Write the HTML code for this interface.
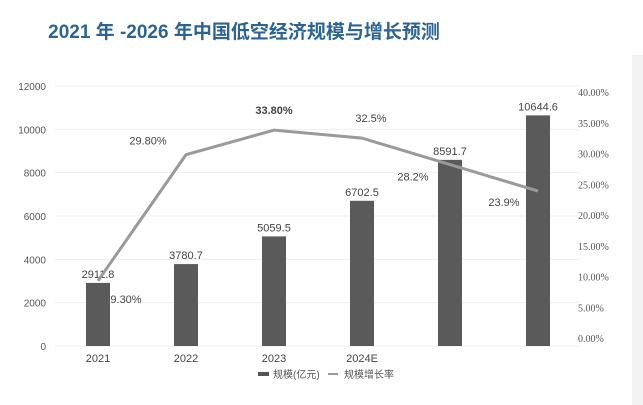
<!DOCTYPE html>
<html><head><meta charset="utf-8"><style>
body{margin:0;background:#fff;}
svg{display:block;font-family:"Liberation Sans","Noto Sans CJK SC",sans-serif;}
</style></head><body>
<svg id="c" width="643" height="405">
<rect x="0" y="0" width="643" height="405" fill="#fff"/>
<rect x="632" y="55" width="11" height="350" fill="#f3f3f3"/>
<text x="244" y="38" text-anchor="middle" font-size="19" font-weight="bold" fill="#2c6496">2021 年 -2026 年中国低空经济规模与增长预测</text>
<g id="grid"></g><g id="bars"></g><g id="line"></g><g id="axes"></g>
<g>
<rect x="258" y="372" width="11" height="4" fill="#555"/>
<text x="273" y="378" font-size="10" fill="#555">规模(亿元)</text>
<line x1="328" y1="374" x2="338" y2="374" stroke="#777" stroke-width="1.5"/>
<text x="344" y="378" font-size="10" fill="#555">规模增长率</text>
</g>
</svg>
<script>
const categories=["2021","2022","2023","2024E","",""];
const scaleValues=[2911.8,3780.7,5059.5,6702.5,8591.7,10644.6];
const scaleLabels=["2911.8","3780.7","5059.5","6702.5","8591.7","10644.6"];
const growthValues=[9.3,29.8,33.8,32.5,28.2,23.9];
const growthLabels=["9.30%","29.80%","33.80%","32.5%","28.2%","23.9%"];
const leftTicks=[0,2000,4000,6000,8000,10000,12000];
const rightTicks=[0,5,10,15,20,25,30,35,40];
const NS="http://www.w3.org/2000/svg";
function el(t,a,p,txt){const e=document.createElementNS(NS,t);for(const k in a)e.setAttribute(k,a[k]);if(txt!==undefined)e.textContent=txt;document.getElementById(p).appendChild(e);return e;}
const xC=i=>98+i*88;
const yL=v=>346-v/12000*260;
const yR=v=>338-v/40*246;
leftTicks.forEach(t=>{
 const g=el('line',{x1:55,x2:580,y1:yL(t),y2:yL(t),stroke:'#efefef','stroke-width':1},'grid');
 
 
 const l=el('text',{x:46,y:yL(t)+4,'text-anchor':'end','font-size':10,fill:'#555'},'axes',String(t));
 
 
});
rightTicks.forEach(t=>{
 const l=el('text',{x:578,y:yR(t)+4,'font-size':10,fill:'#555','font-family':'Liberation Serif,serif'},'axes',t.toFixed(2)+'%');
 
 
});
categories.forEach((c,i)=>{
 const t=el('text',{x:xC(i),y:362,'text-anchor':'middle','font-size':11,fill:'#444'},'axes',c);
 
 
});
scaleValues.forEach((v,i)=>{
 const b=el('rect',{x:xC(i)-12,y:yL(v),width:24,height:346-yL(v),fill:'#5a5a5a'},'bars');
 
 
 const t=el('text',{x:xC(i),y:yL(v)-5,'text-anchor':'middle','font-size':11,fill:'#444'},'bars',scaleLabels[i]);
 
 
});
const pts=growthValues.map((v,i)=>[xC(i),yR(v)]);
const pl=el('polyline',{points:pts.map(p=>p.join(',')).join(' '),fill:'none',stroke:'#9a9a9a','stroke-width':3},'line');


const offs=[[28,18],[-38,-14],[0,-20],[9,-20],[-37,12],[-34,11]];
growthValues.forEach((v,i)=>{
 const t=el('text',{x:pts[i][0]+offs[i][0],y:pts[i][1]+offs[i][1]+4,'text-anchor':'middle','font-size':11,fill:'#444','font-weight':i==2?'bold':'normal'},'line',growthLabels[i]);
 
 
});
</script>
</body></html>
